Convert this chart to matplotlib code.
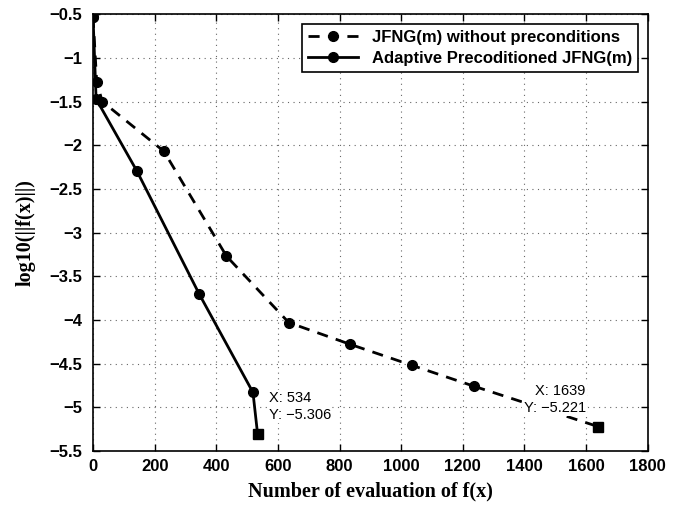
import matplotlib.pyplot as plt
import numpy as np

# JFNG(m) without preconditions
x_plain = [0, 12, 30, 230, 433, 635, 835, 1035, 1237, 1639]
y_plain = [-0.53, -1.28, -1.5, -2.07, -3.27, -4.03, -4.28, -4.52, -4.76, -5.221]

# Adaptive Precoditioned JFNG(m)
x_adapt = [0, 10, 143, 344, 519, 534]
y_adapt = [-0.53, -1.47, -2.30, -3.70, -4.83, -5.306]

xticks = np.arange(0, 1801, 200)
yticks = np.arange(-5.5, -0.49, 0.5)

tick_font = {"family": "Liberation Sans", "weight": "bold", "size": 12}

fig = plt.figure(figsize=(6.84, 5.05), dpi=100)
ax = fig.add_axes([0.136, 0.107, 0.811, 0.865])

ax.plot(x_plain[:-1], y_plain[:-1], "k--", marker="o", markersize=7, lw=2,
        dashes=(4, 3), label="JFNG(m) without preconditions")
ax.plot(x_plain[-2:], y_plain[-2:], "k--", lw=2, dashes=(4, 3))
ax.plot(x_adapt[:-1], y_adapt[:-1], "k-", marker="o", markersize=7, lw=2,
        label="Adaptive Precoditioned JFNG(m)")
ax.plot(x_adapt[-2:], y_adapt[-2:], "k-", lw=2)

# data tips
ax.plot([x_plain[-1], x_adapt[-1]], [y_plain[-1], y_adapt[-1]], "ks",
        markersize=7, zorder=5)
tip_font = {"family": "Liberation Sans", "size": 10.5}
ax.text(1599, -4.91, "X: %d\nY: %s" % (x_plain[-1], ("%.3f" % y_plain[-1]).replace("-", "\u2212")),
        ha="right", va="center", multialignment="right", linespacing=1.25,
        fontdict=tip_font,
        bbox=dict(facecolor="white", edgecolor="none", pad=1), zorder=4)
ax.text(570, -4.99, "X: %d\nY: %s" % (x_adapt[-1], ("%.3f" % y_adapt[-1]).replace("-", "\u2212")),
        ha="left", va="center", linespacing=1.25, fontdict=tip_font,
        bbox=dict(facecolor="white", edgecolor="none", pad=1), zorder=4)

ax.set_xlim(0, 1800)
ax.set_ylim(-5.5, -0.5)
ax.set_xticks(xticks)
ax.set_yticks(yticks)
ax.set_xticklabels([str(v) for v in xticks], fontdict=tick_font)
ax.set_yticklabels([("%g" % v).replace("-", "\u2212") for v in yticks], fontdict=tick_font)
ax.tick_params(direction="in", top=True, right=True, length=5, width=1)
ax.tick_params(axis="y", pad=8)
ax.tick_params(axis="x", pad=6)
ax.grid(True, linestyle=(0, (1, 4)), color="0.4", linewidth=0.8)
for s in ax.spines.values():
    s.set_linewidth(1.2)

ax.set_xlabel("Number of evaluation of f(x)", family="Liberation Serif",
              weight="bold", size=14.5, labelpad=5)
ax.set_ylabel("log10(||f(x)||)", family="Liberation Serif", weight="bold",
              size=14.5, labelpad=10)

leg = ax.legend(loc="upper right", prop={"family": "Liberation Sans", "weight": "bold", "size": 12},
                fancybox=False, edgecolor="black", framealpha=1, handlelength=3,
                borderpad=0.35, labelspacing=0.35, borderaxespad=0.6)
leg.get_frame().set_linewidth(1.2)

fig.savefig("out.png", dpi=100)
